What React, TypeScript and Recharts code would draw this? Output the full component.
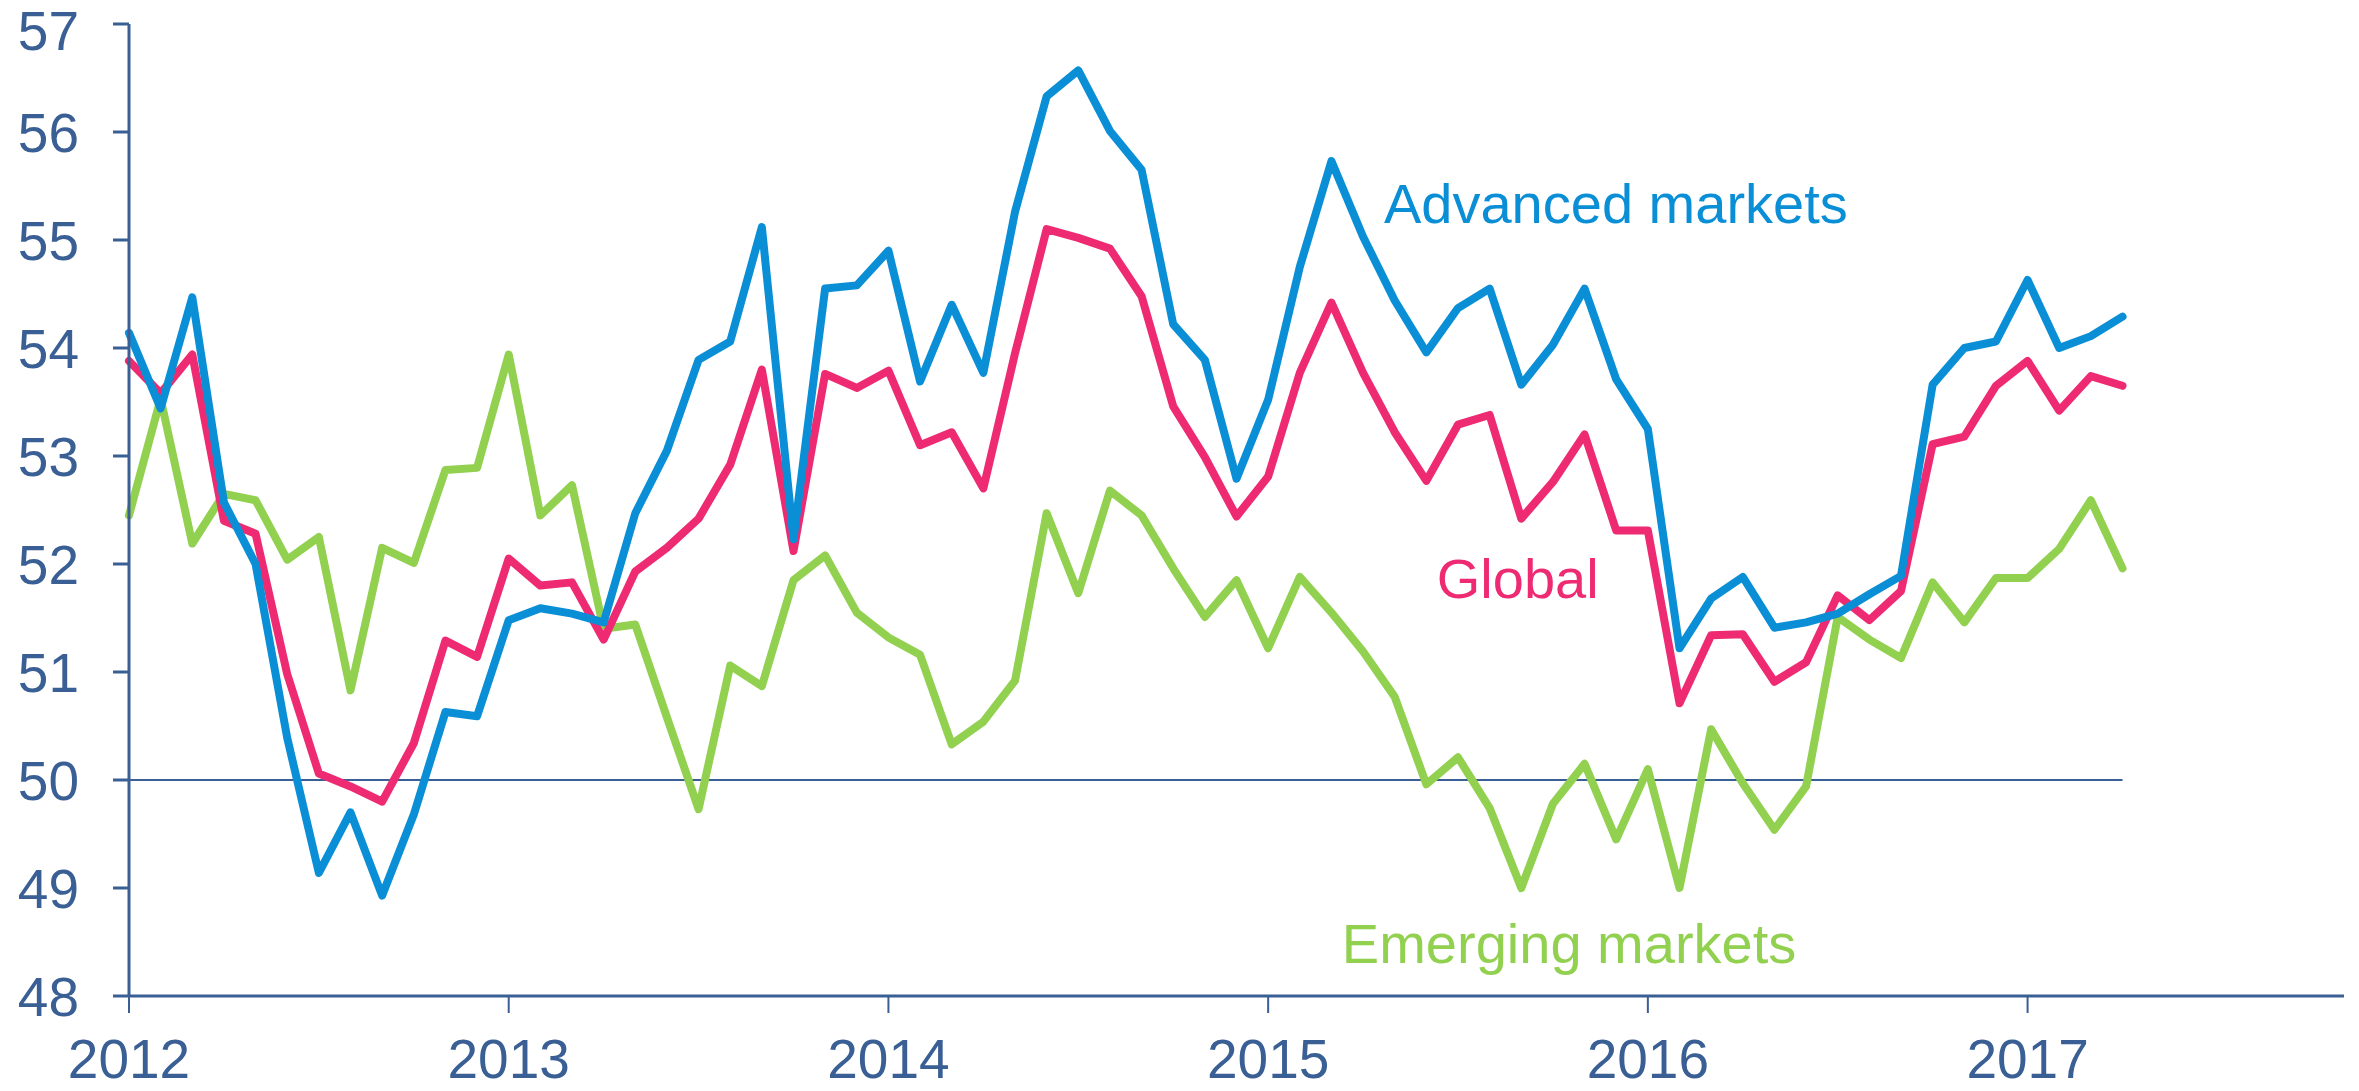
import React from "react";
import { LineChart, Line, XAxis, YAxis, ReferenceLine, ReferenceDot } from "recharts";

// monthly index values, Jan 2012 .. Apr 2017
const advanced = [
  54.14, 53.44, 54.47, 52.57, 52.0, 50.39, 49.14, 49.7, 48.93, 49.68, 50.63, 50.59,
  51.48, 51.59, 51.54, 51.46, 52.47, 53.05, 53.89, 54.06, 55.12, 52.23, 54.55, 54.58,
  54.9, 53.69, 54.4, 53.77, 55.26, 56.33, 56.57, 56.01, 55.65, 54.22, 53.89, 52.79,
  53.52, 54.75, 55.73, 55.03, 54.44, 53.96, 54.37, 54.55, 53.66, 54.03, 54.55, 53.71,
  53.25, 51.22, 51.68, 51.88, 51.41, 51.46, 51.54, 51.72, 51.89, 53.66, 54.0, 54.06,
  54.63, 54.0, 54.11, 54.29,
];
const global = [
  53.88, 53.58, 53.94, 52.4, 52.28, 50.98, 50.06, 49.94, 49.8, 50.34, 51.29, 51.14,
  52.05, 51.8, 51.83, 51.3, 51.93, 52.15, 52.42, 52.92, 53.8, 52.12, 53.76, 53.63,
  53.79, 53.1, 53.22, 52.7, 53.95, 55.1, 55.02, 54.92, 54.48, 53.46, 52.99, 52.44,
  52.81, 53.77, 54.42, 53.77, 53.22, 52.77, 53.29, 53.38, 52.42, 52.76, 53.2, 52.31,
  52.31, 50.71, 51.34, 51.35, 50.91, 51.09, 51.71, 51.48, 51.75, 53.11, 53.18, 53.65,
  53.88, 53.42, 53.74, 53.65,
];
const emerging = [
  52.45, 53.53, 52.19, 52.65, 52.59, 52.04, 52.25, 50.83, 52.15, 52.01, 52.87, 52.89,
  53.94, 52.45, 52.73, 51.4, 51.44, 50.58, 49.73, 51.06, 50.87, 51.85, 52.08, 51.55,
  51.32, 51.16, 50.33, 50.54, 50.92, 52.47, 51.73, 52.68, 52.45, 51.96, 51.51, 51.85,
  51.22, 51.88, 51.55, 51.19, 50.77, 49.96, 50.21, 49.74, 49.0, 49.78, 50.15, 49.45,
  50.1, 49.0, 50.47, 49.97, 49.54, 49.94, 51.51, 51.3, 51.13, 51.83, 51.46, 51.87,
  51.87, 52.14, 52.59, 51.96,
];

const years = ["2012", "2013", "2014", "2015", "2016", "2017"];
const yearTicks = [0, 12, 24, 36, 48, 60];
const yTicks = [48, 49, 50, 51, 52, 53, 54, 55, 56, 57];

const data = advanced.map((v, i) => ({
  m: i,
  advanced: v,
  global: global[i],
  emerging: emerging[i],
}));

const AXIS = "#3A5F94";
const BLUE = "#0A8FD6";
const PINK = "#EE2B72";
const GREEN = "#92D050";

const seriesLabels = [
  { text: "Advanced markets", x: 39.66, y: 55.345, color: BLUE },
  { text: "Global", x: 41.33, y: 51.873, color: PINK },
  { text: "Emerging markets", x: 38.33, y: 48.49, color: GREEN },
];

// y tick label; the top one is nudged down so it stays inside the page
function YTick(props: any) {
  const { x, y, payload } = props;
  const nudge = payload.value === 57 ? 6 : 0;
  return (
    <text x={x} y={y + nudge} dy="0.355em" textAnchor="end" fill={AXIS} fontSize={55}>
      {payload.value}
    </text>
  );
}

export default function App() {
  return (
    <div
      style={{
        position: "absolute",
        left: 0,
        top: 0,
        width: 2359,
        height: 1091,
        background: "#fff",
        fontFamily: "'Liberation Sans', Arial, sans-serif",
      }}
    >
      <LineChart width={2359} height={1091} data={data} margin={{ top: 24, right: 15, bottom: 0, left: 0 }}>
        <XAxis
          dataKey="m"
          type="number"
          domain={[0, 70]}
          ticks={yearTicks}
          tickFormatter={(v) => years[yearTicks.indexOf(v)]}
          interval={0}
          height={95}
          stroke={AXIS}
          axisLine={{ stroke: AXIS, strokeWidth: 3 }}
          tickLine={{ stroke: AXIS, strokeWidth: 2 }}
          tickSize={17}
          tickMargin={26}
          tick={{ fill: AXIS, fontSize: 55 }}
        />
        <YAxis
          domain={[48, 57]}
          ticks={yTicks}
          interval={0}
          width={129}
          stroke={AXIS}
          axisLine={{ stroke: AXIS, strokeWidth: 3 }}
          tickLine={{ stroke: AXIS, strokeWidth: 3 }}
          tickSize={16}
          tickMargin={34}
          tick={<YTick />}
        />
        <ReferenceLine
          segment={[
            { x: 0, y: 50 },
            { x: 63, y: 50 },
          ]}
          stroke={AXIS}
          strokeWidth={2}
        />
        <Line type="linear" dataKey="emerging" stroke={GREEN} strokeWidth={8} dot={false} isAnimationActive={false} strokeLinejoin="round" strokeLinecap="round" />
        <Line type="linear" dataKey="global" stroke={PINK} strokeWidth={8} dot={false} isAnimationActive={false} strokeLinejoin="round" strokeLinecap="round" />
        <Line type="linear" dataKey="advanced" stroke={BLUE} strokeWidth={8} dot={false} isAnimationActive={false} strokeLinejoin="round" strokeLinecap="round" />
        {seriesLabels.map((l) => (
          <ReferenceDot
            key={l.text}
            x={l.x}
            y={l.y}
            r={0}
            fill="none"
            stroke="none"
            label={{ value: l.text, position: "right", offset: 0, fill: l.color, fontSize: 56 }}
          />
        ))}
      </LineChart>
    </div>
  );
}
